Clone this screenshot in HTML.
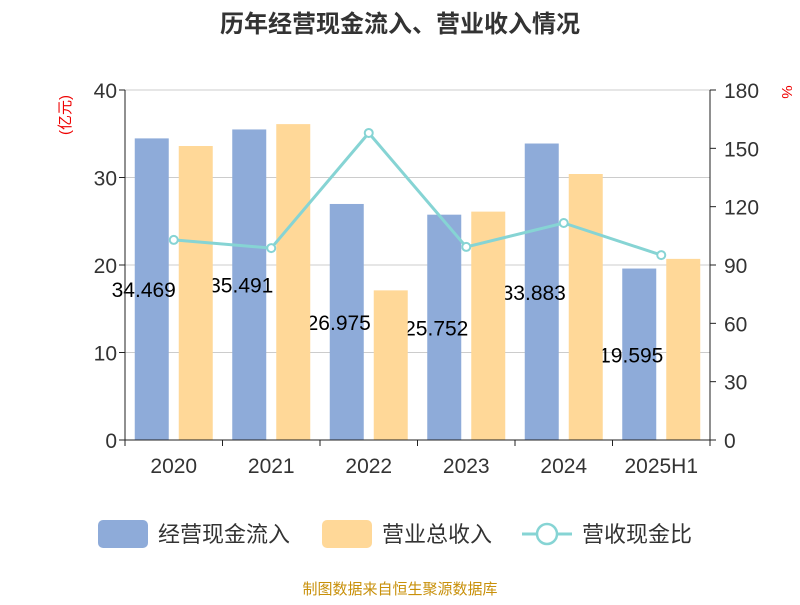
<!DOCTYPE html>
<html><head><meta charset="utf-8"><style>
body{margin:0;background:#fff;font-family:"Liberation Sans","Noto Sans CJK SC",sans-serif;}
svg text{font-family:"Liberation Sans","Noto Sans CJK SC",sans-serif;}
</style></head><body>
<svg id="c" width="800" height="600" xmlns="http://www.w3.org/2000/svg">
<text x="400" y="32" text-anchor="middle" font-size="24" font-weight="bold" fill="#333">历年经营现金流入、营业收入情况</text>
<text x="70" y="115" font-size="15" fill="#e00" text-anchor="middle" transform="rotate(-90 70 115)">(亿元)</text>
<text x="782" y="92" font-size="15" fill="#e00" text-anchor="middle" transform="rotate(90 782 92)">%</text>
<g id="grid"></g><g id="bars1"></g><g id="labels"></g><g id="bars2"></g><g id="axes"></g><g id="line"></g>
<g>
<rect x="98" y="520" width="50" height="28" rx="5" fill="#8eabd9"/>
<text x="158" y="542" font-size="22" fill="#333">经营现金流入</text>
<rect x="322" y="520" width="50" height="28" rx="5" fill="#ffd898"/>
<text x="382" y="542" font-size="22" fill="#333">营业总收入</text>
<line x1="522" y1="534" x2="572" y2="534" stroke="#86d4d4" stroke-width="3"/>
<circle cx="547" cy="534" r="10" fill="#fff" stroke="#86d4d4" stroke-width="2.5"/>
<text x="582" y="542" font-size="22" fill="#333">营收现金比</text>
</g>
<text x="400" y="594" text-anchor="middle" font-size="15" fill="#c8900a">制图数据来自恒生聚源数据库</text>
</svg>
<script>
const categories=["2020","2021","2022","2023","2024","2025H1"];
const cashInflow=[34.469,35.491,26.975,25.752,33.883,19.595];
const revenue=[33.6,36.1,17.1,26.1,30.4,20.7];
const ratio=[102.9,98.7,157.9,99.3,111.6,95.1];
const leftTicks=[0,10,20,30,40];
const rightTicks=[0,30,60,90,120,150,180];
const NS="http://www.w3.org/2000/svg";
const X0=125,X1=710,Y0=440,Y1=90;
const bw=(X1-X0)/categories.length;
const yL=v=>Y0-(v/40)*(Y0-Y1);
const yR=v=>Y0-(v/180)*(Y0-Y1);
const xC=i=>X0+bw*(i+0.5);
function mk(t,a,p){const e=document.createElementNS(NS,t);for(const k in a)e.setAttribute(k,a[k]);document.getElementById(p).appendChild(e);return e;}
leftTicks.forEach(v=>{
 if(v>0){const g=mk('line',{x1:X0,x2:X1,y1:yL(v),y2:yL(v),stroke:'#ccc','stroke-width':1},'grid');
 
 }
 const t=mk('text',{x:X0-8,y:yL(v)+8,'text-anchor':'end','font-size':21,fill:'#333'},'axes');t.textContent=v;
 
 
 mk('line',{x1:X0-6,x2:X0,y1:yL(v),y2:yL(v),stroke:'#222'},'axes');
});
rightTicks.forEach(v=>{
 const t=mk('text',{x:X1+14,y:yR(v)+8,'font-size':21,fill:'#333'},'axes');t.textContent=v;
 
 
 mk('line',{x1:X1,x2:X1+6,y1:yR(v),y2:yR(v),stroke:'#222'},'axes');
});
const ax=mk('line',{x1:X0,x2:X0,y1:Y1,y2:Y0,stroke:'#222'},'axes');


const ar=mk('line',{x1:X1,x2:X1,y1:Y1,y2:Y0,stroke:'#222'},'axes');


const xa=mk('line',{x1:X0,x2:X1,y1:Y0,y2:Y0,stroke:'#222'},'axes');


categories.forEach((c,i)=>{
 mk('line',{x1:X0+bw*i,x2:X0+bw*i,y1:Y0,y2:Y0+6,stroke:'#222'},'axes');
 const t=mk('text',{x:xC(i),y:Y0+33,'text-anchor':'middle','font-size':21,fill:'#333'},'axes');t.textContent=c;
 
 
 const b1=mk('rect',{x:xC(i)-39,y:yL(cashInflow[i]),width:34,height:Y0-yL(cashInflow[i]),fill:'#8eabd9'},'bars1');
 
 
 const l=mk('text',{x:xC(i)-30,y:(yL(cashInflow[i])+Y0)/2+8,'text-anchor':'middle','font-size':21,fill:'#000'},'labels');l.textContent=cashInflow[i];
 
 
 const b2=mk('rect',{x:xC(i)+5,y:yL(revenue[i]),width:34,height:Y0-yL(revenue[i]),fill:'#ffd898'},'bars2');
 
 
 if(i===categories.length-1)mk('line',{x1:X1,x2:X1,y1:Y0,y2:Y0+6,stroke:'#222'},'axes');
});
const pl=mk('polyline',{points:ratio.map((v,i)=>xC(i)+','+yR(v)).join(' '),fill:'none',stroke:'#86d4d4','stroke-width':3},'line');


ratio.forEach((v,i)=>{
 const p=mk('circle',{cx:xC(i),cy:yR(v),r:4,fill:'#fff',stroke:'#86d4d4','stroke-width':2},'line');
 
 
});
</script>
</body></html>
